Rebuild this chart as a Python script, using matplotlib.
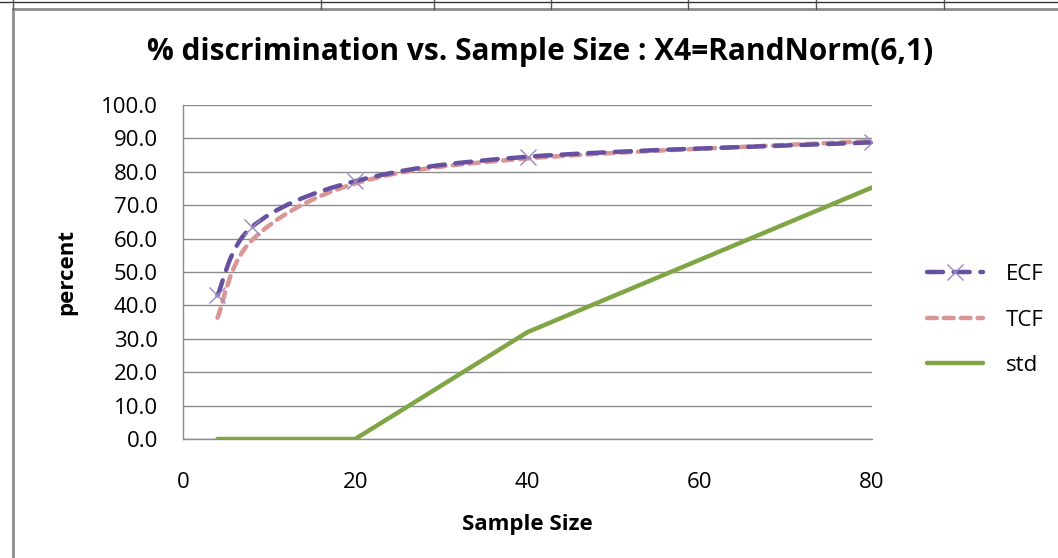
import numpy as np
import matplotlib
matplotlib.use("Agg")
import matplotlib.pyplot as plt
from matplotlib.path import Path
from matplotlib.patches import PathPatch, Rectangle
from matplotlib.lines import Line2D

# data
sample_size = [4, 8, 20, 40, 80]
ecf = [43.0, 63.5, 77.2, 84.5, 88.8]
tcf = [36.3, 59.5, 76.5, 84.0, 89.2]
std = [0.0, 0.0, 0.0, 32.0, 75.3]

title = "% discrimination vs. Sample Size : X4=RandNorm(6,1)"
x_ticks = [0, 20, 40, 60, 80]
y_ticks = [0, 10, 20, 30, 40, 50, 60, 70, 80, 90, 100]

plt.rcParams['font.family'] = ['Open Sans', 'DejaVu Sans']

c_ecf = '#6650A0'
c_ecf_marker = '#9A88C4'
c_tcf = '#D99694'
c_std = '#7FA545'


def smooth_path(xs, ys):
    # excel style smoothed line: catmull-rom turned into cubic beziers
    pts = np.column_stack([xs, ys]).astype(float)
    n = len(pts)
    verts = [pts[0]]
    codes = [Path.MOVETO]
    for i in range(n - 1):
        p0 = pts[i - 1] if i > 0 else pts[i]
        p1 = pts[i]
        p2 = pts[i + 1]
        p3 = pts[i + 2] if i + 2 < n else pts[i + 1]
        c1 = p1 + (p2 - p0) / 6.0
        c2 = p2 - (p3 - p1) / 6.0
        verts += [c1, c2, p2]
        codes += [Path.CURVE4] * 3
    return Path(verts, codes)


fig = plt.figure(figsize=(10.58, 5.58), dpi=100)
ax = fig.add_axes([183 / 1058, 1 - 439 / 558, (872 - 183) / 1058, (439 - 105) / 558])

# chart frame and the spreadsheet cells peeking at the top
fig.patches.append(Rectangle((13 / 1058, -0.01), 1.0, 1 - 9 / 558 + 0.01,
                             transform=fig.transFigure, fill=False,
                             edgecolor='#8C8C8C', linewidth=2.0))
fig.add_artist(Line2D([0, 1], [1 - 2 / 558, 1 - 2 / 558], transform=fig.transFigure,
                      color='#333333', linewidth=1.0))
for xc in [13, 321, 434, 551, 688, 816, 944]:
    fig.add_artist(Line2D([xc / 1058, xc / 1058], [1 - 9 / 558, 1.0],
                          transform=fig.transFigure, color='#555555', linewidth=1.0))

ax.set_xlim(0, 80)
ax.set_ylim(0, 100)
ax.set_xticks(x_ticks)
ax.set_yticks(y_ticks)
ax.set_yticklabels(['%.1f' % v for v in y_ticks])
ax.tick_params(length=0, labelsize=16, colors='#000000', pad=18)
ax.tick_params(axis='x', pad=24)
ax.grid(axis='y', color='#8C8C8C', linewidth=1.0)
ax.set_axisbelow(True)
for s in ['top', 'right']:
    ax.spines[s].set_visible(False)
for s in ['left', 'bottom']:
    ax.spines[s].set_color('#8C8C8C')
    ax.spines[s].set_linewidth(1.0)

# std straight line
ax.plot(sample_size, std, color=c_std, linewidth=3.2, solid_capstyle='round', zorder=3)

# TCF smoothed, short dashes
ax.add_patch(PathPatch(smooth_path(sample_size, tcf), fill=False, edgecolor=c_tcf,
                       linewidth=3.2, linestyle=(0, (2.2, 1.6)), capstyle='round', zorder=4))

# ECF smoothed, long dashes with x markers
ax.add_patch(PathPatch(smooth_path(sample_size, ecf), fill=False, edgecolor=c_ecf,
                       linewidth=3.2, linestyle=(0, (3.6, 2.4)), capstyle='round', zorder=5))
ax.plot(sample_size, ecf, linestyle='none', marker='x', markersize=12,
        markeredgewidth=1.0, color=c_ecf_marker, zorder=6)

handles = [
    Line2D([], [], color=c_ecf, linewidth=3.2, linestyle=(0, (3.6, 2.4)),
           dash_capstyle='round', marker='x', markersize=12, markeredgewidth=1.0,
           markeredgecolor=c_ecf_marker),
    Line2D([], [], color=c_tcf, linewidth=3.2, linestyle=(0, (2.2, 1.6)),
           dash_capstyle='round'),
    Line2D([], [], color=c_std, linewidth=3.2, solid_capstyle='round'),
]
fig.legend(handles, ['ECF', 'TCF', 'std'], loc='center left',
           bbox_to_anchor=(907 / 1058, 1 - 320 / 558), frameon=False,
           fontsize=16, handlelength=2.5, handletextpad=1.05, labelspacing=1.1)

fig.text(540 / 1058, 1 - 52 / 558, title, ha='center', va='center',
         fontsize=21.5, fontweight='bold')
ax.set_ylabel('percent', fontsize=16, fontweight='bold', labelpad=17)
ax.set_xlabel('Sample Size', fontsize=16, fontweight='bold', labelpad=15)

fig.savefig('out.png', dpi=100, facecolor='white')
